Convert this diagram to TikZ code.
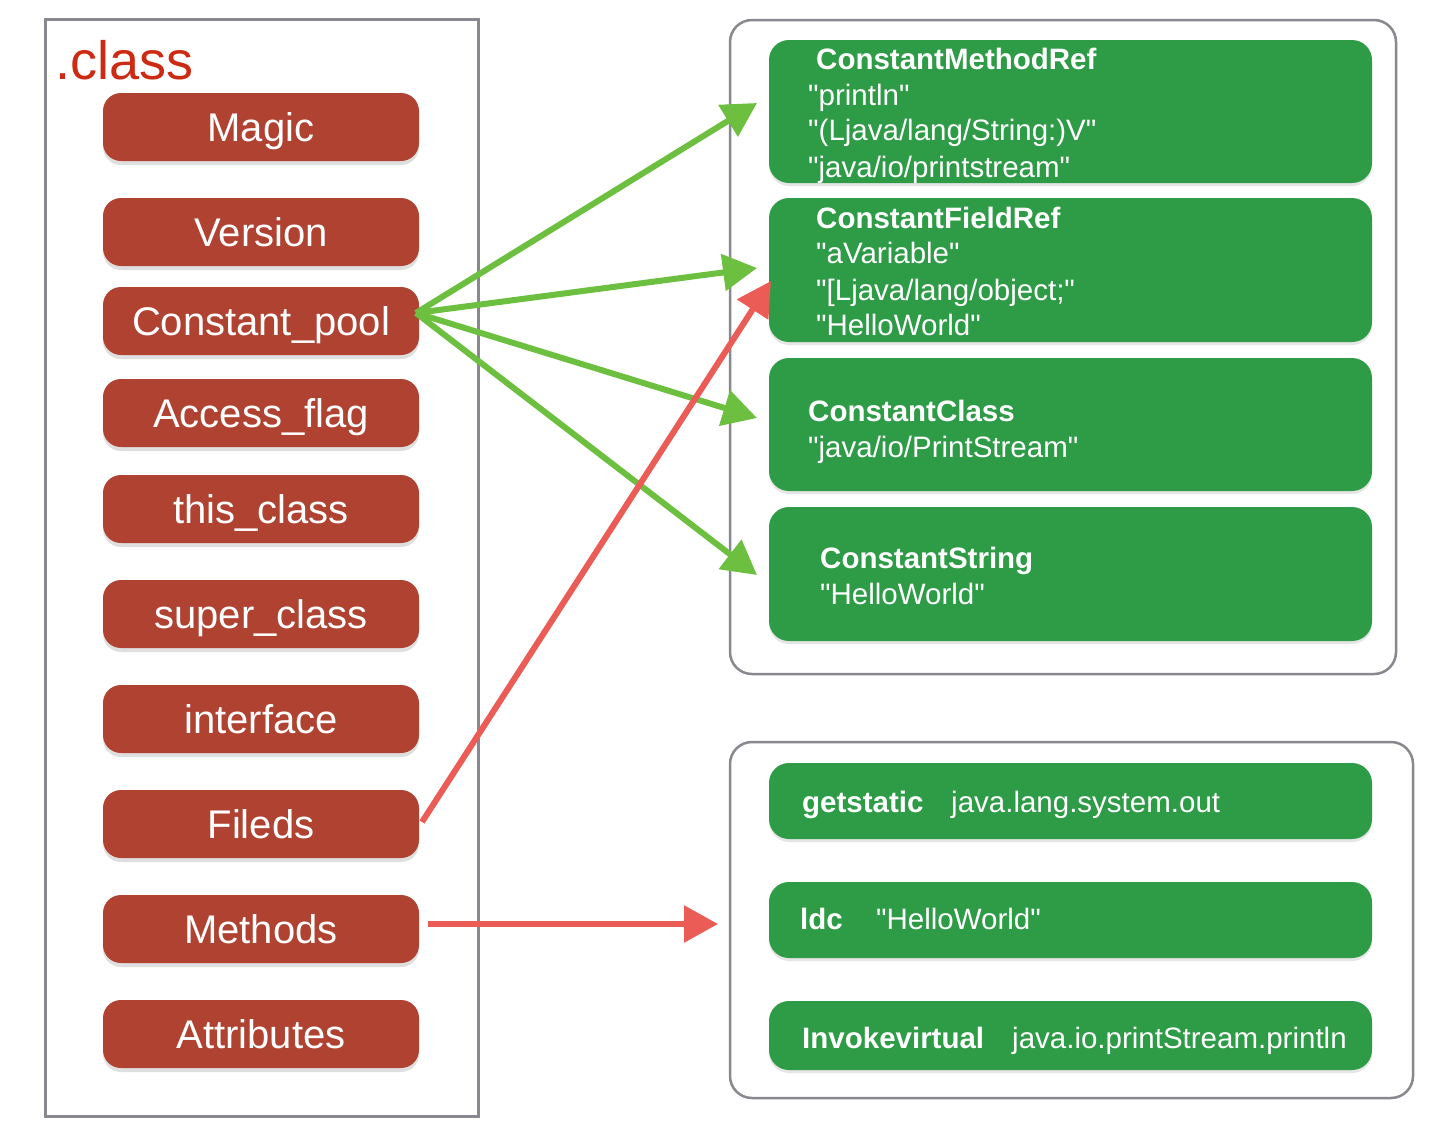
\documentclass[tikz,border=0pt]{standalone}
\usepackage{fontspec}
\setmainfont{Liberation Sans}[Ligatures=TeXOff]
\usetikzlibrary{arrows.meta,shadows}
\definecolor{boxred}{RGB}{176,66,49}
\definecolor{boxgreen}{RGB}{46,155,70}
\definecolor{arrgreen}{RGB}{108,191,63}
\definecolor{arrred}{RGB}{236,92,86}
\definecolor{framegray}{RGB}{136,136,142}
\definecolor{titlered}{RGB}{204,42,19}
\tikzset{
  field/.style={fill=boxred, rounded corners=18pt, minimum width=316pt, minimum height=68pt,
    inner sep=0pt, text=white, font=\fontsize{40}{40}\selectfont, text height=29pt, text depth=0pt,
    drop shadow={shadow xshift=0pt, shadow yshift=-4pt, opacity=.25}},
  cbox/.style={fill=boxgreen, rounded corners=20pt, minimum width=603pt, inner sep=0pt,
    drop shadow={shadow xshift=0pt, shadow yshift=-3pt, opacity=.2}},
  ctext/.style={anchor=base west, inner sep=0pt, text=white, font=\fontsize{29.5}{29.5}\selectfont},
  ctitle/.style={anchor=base west, inner sep=0pt, text=white, font=\bfseries\fontsize{29.5}{29.5}\selectfont},
  group/.style={draw=framegray, line width=2.5pt, rounded corners=22pt},
  garrow/.style={draw=arrgreen, line width=6pt, -{Triangle[length=34pt,width=36pt]}, arrgreen},
  rarrow/.style={draw=arrred, line width=6pt, -{Triangle[length=34pt,width=36pt]}, arrred},
}
\begin{document}
\begin{tikzpicture}[x=1pt,y=-1pt]
\useasboundingbox[fill=white] (0,0) rectangle (1456,1136);
% left frame
\draw[framegray, line width=3pt] (45,19) rectangle (478,1116);
\node[anchor=base west, inner sep=0pt, text=titlered, font=\fontsize{54}{54}\selectfont] (title) at (55,79) {.class};
% fields
\node[field] (magic) at (261,127) {Magic};
\node[field] (version) at (261,232) {Version};
\node[field] (cp) at (261,321) {Constant\_pool};
\node[field] (access) at (261,413) {Access\_flag};
\node[field] (thisc) at (261,509) {this\_class};
\node[field] (superc) at (261,614) {super\_class};
\node[field] (iface) at (261,719) {interface};
\node[field] (fd) at (261,824) {Fileds};
\node[field] (me) at (261,929) {Methods};
\node[field] (attr) at (261,1034) {Attributes};
% groups
\draw[group] (730,20) rectangle (1396,674);
\draw[group] (730,742) rectangle (1413,1098);
% constant pool boxes
\node[cbox, minimum height=143pt] (cmr) at (1070.5,111.5) {};
\node[cbox, minimum height=144pt] (cfr) at (1070.5,270) {};
\node[cbox, minimum height=133pt] (ccl) at (1070.5,424.5) {};
\node[cbox, minimum height=134pt] (cst) at (1070.5,574) {};
\node[ctitle] (cmr1) at (816,69) {ConstantMethodRef};
\node[ctext] (cmr2) at (808,105) {"println"};
\node[ctext] (cmr3) at (808,140) {"(Ljava/lang/String:)V"};
\node[ctext] (cmr4) at (808,177) {"java/io/printstream"};
\node[ctitle] (cfr1) at (816,228) {ConstantFieldRef};
\node[ctext] (cfr2) at (816,263) {"aVariable"};
\node[ctext] (cfr3) at (816,300) {"[Ljava/lang/object;"};
\node[ctext] (cfr4) at (816,335) {"HelloWorld"};
\node[ctitle] (ccl1) at (808,421) {ConstantClass};
\node[ctext] (ccl2) at (808,457) {"java/io/PrintStream"};
\node[ctitle] (cst1) at (820,568) {ConstantString};
\node[ctext] (cst2) at (820,604) {"HelloWorld"};
% bytecode boxes
\node[cbox, minimum height=76pt] (b1) at (1070.5,801) {};
\node[cbox, minimum height=76pt] (b2) at (1070.5,920) {};
\node[cbox, minimum height=69pt] (b3) at (1070.5,1035.5) {};
\node[ctitle] (b1a) at (802,812) {getstatic};
\node[ctext] (b1b) at (951,812) {java.lang.system.out};
\node[ctitle] (b2a) at (800,929) {ldc};
\node[ctext] (b2b) at (876,929) {"HelloWorld"};
\node[ctitle] (b3a) at (802,1048) {Invokevirtual};
\node[ctext] (b3b) at (1012,1048) {java.io.printStream.println};
% connectors
\coordinate (cpout) at (416,313);
\coordinate (t1) at (757,103);
\coordinate (t2) at (757,268);
\coordinate (t3) at (757,418);
\coordinate (t4) at (757,575);
\coordinate (fdout) at (422,822);
\coordinate (t5) at (771,281);
\coordinate (meout) at (428,924);
\coordinate (t6) at (718,924);
\draw[garrow] (cpout) -- (t1);
\draw[garrow] (cpout) -- (t2);
\draw[garrow] (cpout) -- (t3);
\draw[garrow] (cpout) -- (t4);
\draw[rarrow] (fdout) -- (t5);
\draw[rarrow] (meout) -- (t6);
\end{tikzpicture}
\end{document}
